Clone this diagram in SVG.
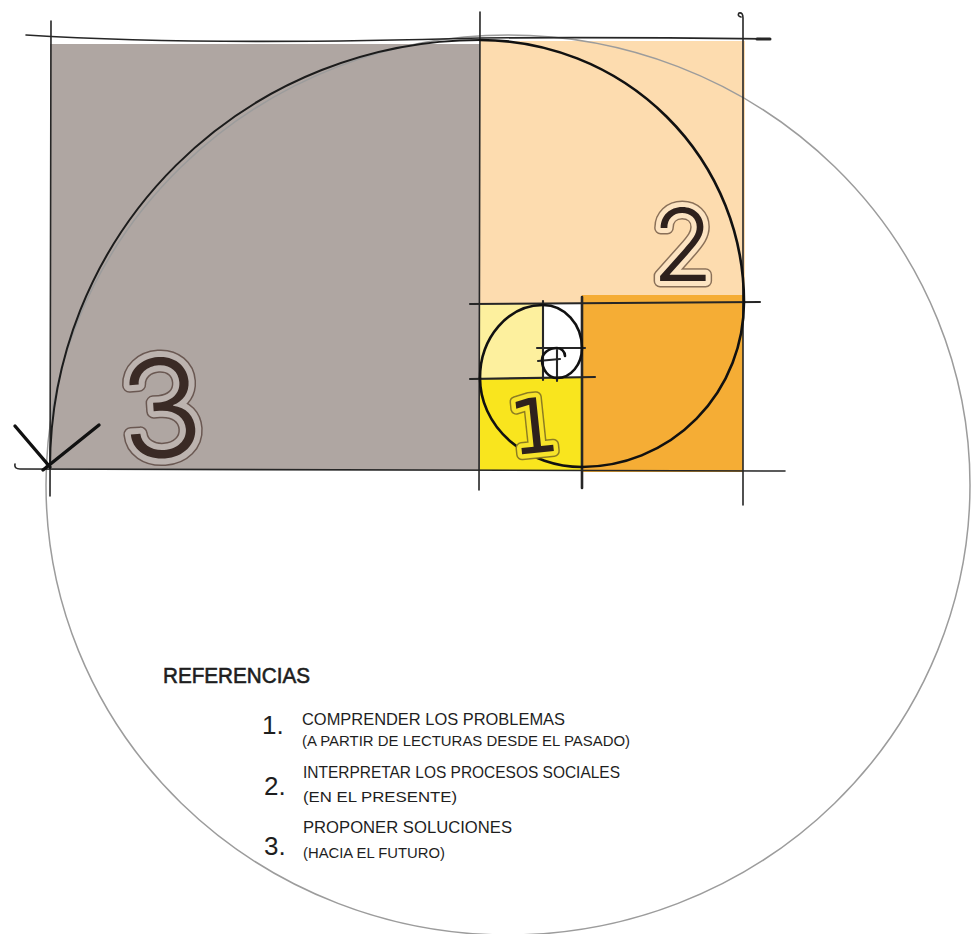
<svg xmlns="http://www.w3.org/2000/svg" width="973" height="934" viewBox="0 0 973 934">
<style>
.guide{fill:none;stroke:#262626;stroke-width:1.6;stroke-linecap:round;stroke-linejoin:round}
.g2{stroke-width:2.1}
.spiral{fill:none;stroke:#111;stroke-width:2.6;stroke-linecap:round}
.circ{fill:none;stroke:#9c9c9c;stroke-width:1.5}
.leg{font-family:"Liberation Sans",Arial,sans-serif;fill:#1e1e1e}
.big{font-family:Inter,"Liberation Sans",sans-serif;font-weight:300;stroke-linejoin:round}
.one{font-family:"DejaVu Sans","Liberation Sans",sans-serif;stroke-linejoin:round}
</style>
<rect width="973" height="934" fill="#fff"/>

<g id="square3">
<rect x="50" y="44" width="430" height="426" fill="#afa6a2"/>
</g>
<g id="square2">
<rect x="480" y="41" width="265" height="263" fill="#fddcaf"/>
</g>
<g id="square-orange">
<rect x="582" y="295" width="161" height="177" fill="#f5ad35"/>
</g>
<g id="square1">
<rect x="480" y="378" width="102" height="92" fill="#f9e51e"/>
</g>
<g id="square-lightyellow">
<rect x="480" y="304" width="63" height="74" fill="#fdf09e"/>
</g>
<g id="square-white">
<rect x="543" y="304" width="39" height="74" fill="#ffffff"/>
</g>

<g id="circle">
<ellipse class="circ" cx="508" cy="485" rx="462" ry="450"/>
</g>

<g id="connectors">
<path class="guide" d="M26,35 Q200,46 480,38 Q620,37 770,39"/>
<path class="guide" style="stroke-width:3" d="M757,39 L770,39"/>
<path class="guide" d="M51,21 L50,496"/>
<path class="guide" d="M480,12 L479,490"/>
<path class="guide" d="M743,505 L743,18 Q743,12 739,13 Q737,16 741,17"/>
<path class="guide" d="M15,464 Q14,469 20,469 L785,471"/>
<path class="guide g2" d="M470,304 L760,302"/>
<path class="guide" style="stroke-width:2.6" d="M582,297 L582,488"/>
<path class="guide g2" d="M470,379 L595,377"/>
<path class="guide g2" d="M543,301 L543,380"/>
<path class="guide g2" d="M537,348 L585,348"/>
<path class="guide g2" d="M538,361 L560,359"/>
<path class="guide g2" d="M557,350 L557,381"/>
<path class="spiral" style="stroke-width:2;stroke:#1c1c1c" d="M50,468 A430 428 0 0 1 480,40"/>
<path class="spiral" d="M480,40 A264 262 0 0 1 744,302"/>
<path class="spiral" d="M744,302 A162 165 0 0 1 582,467"/>
<path class="spiral" d="M582,467 A102 89 0 0 1 480,378"/>
<path class="spiral" d="M480,378 A63 73 0 0 1 543,305"/>
<path class="spiral" d="M543,305 A39 43 0 0 1 582,348 A25 30 0 0 1 557,378 A15 18 0 0 1 542,360 A15 12 0 0 1 557,348 A8 8 0 0 1 565,356"/>
<path class="guide" style="stroke-width:3.4;stroke:#111" d="M15,426 L50,467 M43,470 L99,425"/>
</g>

<g id="label3" transform="rotate(-4 165 410)">
<text class="big" x="120" y="457" font-size="136" fill="none" stroke="#6a5852" stroke-width="15">3</text>
<text class="big" x="120" y="457" font-size="136" fill="#3a2a25" stroke="#bcb3af" stroke-width="12" paint-order="stroke">3</text>
</g>
<g id="label2">
<text class="big" x="652" y="281" font-size="100" fill="none" stroke="#8a7058" stroke-width="13">2</text>
<text class="big" x="652" y="281" font-size="100" fill="#2e211d" stroke="#fde4c2" stroke-width="10" paint-order="stroke">2</text>
</g>
<g id="label1" transform="rotate(-6 534 425)">
<text class="one" x="534" y="453" font-size="76" text-anchor="middle" fill="none" stroke="#8c7c22" stroke-width="12">1</text>
<text class="one" x="534" y="453" font-size="76" text-anchor="middle" fill="#2e211d" stroke="#f7e32a" stroke-width="9" paint-order="stroke">1</text>
</g>

<g id="legend">
<text class="leg" x="163" y="683" font-size="22" textLength="147" lengthAdjust="spacingAndGlyphs" stroke="#1e1e1e" stroke-width="0.6">REFERENCIAS</text>
<text class="leg" x="262" y="734" font-size="26">1.</text>
<text class="leg" x="302" y="725" font-size="17" textLength="263" lengthAdjust="spacingAndGlyphs">COMPRENDER LOS PROBLEMAS</text>
<text class="leg" x="302" y="746" font-size="15" textLength="328" lengthAdjust="spacingAndGlyphs">(A PARTIR DE LECTURAS  DESDE EL PASADO)</text>
<text class="leg" x="264" y="795" font-size="26">2.</text>
<text class="leg" x="303" y="778" font-size="17" textLength="317" lengthAdjust="spacingAndGlyphs">INTERPRETAR LOS PROCESOS SOCIALES</text>
<text class="leg" x="303" y="802" font-size="15" textLength="154" lengthAdjust="spacingAndGlyphs">(EN EL PRESENTE)</text>
<text class="leg" x="264" y="855" font-size="26">3.</text>
<text class="leg" x="303" y="833" font-size="17" textLength="209" lengthAdjust="spacingAndGlyphs">PROPONER SOLUCIONES</text>
<text class="leg" x="303" y="858" font-size="15" textLength="142" lengthAdjust="spacingAndGlyphs">(HACIA EL FUTURO)</text>
</g>
</svg>
